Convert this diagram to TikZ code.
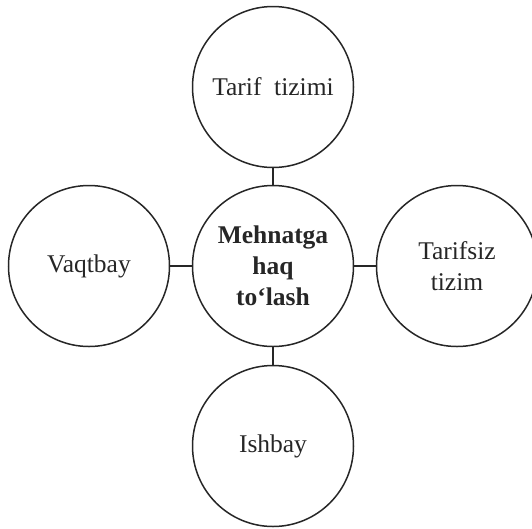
\documentclass[tikz,border=0pt]{standalone}
\usepackage{fontspec}
\setmainfont{Liberation Serif}
\begin{document}
\begin{tikzpicture}[x=1pt,y=-1pt,
  bubble/.style={draw=black!85, line width=1.5pt, circle, minimum size=161pt,
    inner sep=0pt, align=center, font=\fontsize{25.5}{31}\selectfont, text=black!85},
  link/.style={draw=black!85, line width=1.5pt}]
  \useasboundingbox (0,0) rectangle (532,528);
  \node[bubble] (mid)    at (273,266) {\textbf{Mehnatga}\\\textbf{haq}\\\textbf{to‘lash}};
  \node[bubble] (top)    at (273,87)  {Tarif\ \ tizimi};
  \node[bubble] (left)   at (89,266)  {Vaqtbay};
  \node[bubble] (right)  at (457,266) {Tarifsiz\\tizim};
  \node[bubble] (bottom) at (273,446) {Ishbay};
  \draw[link] (top) -- (mid);
  \draw[link] (mid) -- (bottom);
  \draw[link] (left) -- (mid);
  \draw[link] (mid) -- (right);
\end{tikzpicture}
\end{document}
